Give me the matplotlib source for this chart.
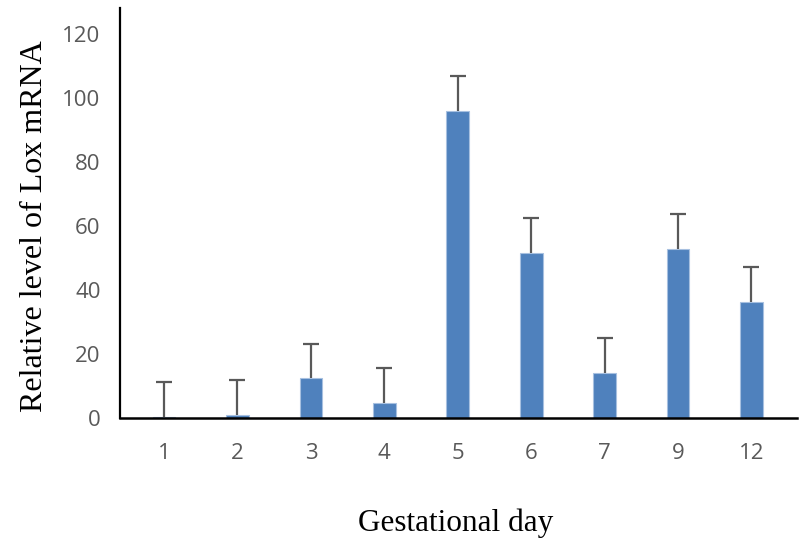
import matplotlib
matplotlib.use("Agg")
import matplotlib.pyplot as plt
import numpy as np

days = ["1", "2", "3", "4", "5", "6", "7", "9", "12"]
values = [0.2, 0.9, 12.4, 4.7, 96.0, 51.6, 14.2, 52.9, 36.3]
errors = [11.0, 11.0, 10.8, 10.9, 10.9, 10.7, 10.9, 10.9, 10.9]
yticks = [0, 20, 40, 60, 80, 100, 120]

fig = plt.figure(figsize=(7.99, 5.39), dpi=100)
W, H = 799, 539
ax = fig.add_axes([120 / W, (H - 418) / H, (797 - 120) / W, (418 - 8) / H])

x = np.arange(len(days))
vals = np.array(values)
errs = np.array(errors)
tops = vals + errs
ax.bar(x, vals, width=0.31, color="#4F81BD", edgecolor="#A7C0E0", linewidth=0.8, zorder=2)
ax.vlines(x, vals, tops, color="#595959", linewidth=1.6, zorder=3)
ax.plot(x, tops, linestyle="none", marker="_", markersize=12, markeredgewidth=1.6,
        color="#595959", zorder=3)

ax.set_xlim(-0.6, 8.62)
ax.set_ylim(0, 128)
ax.set_yticks(yticks)
ax.set_xticks(x)
ax.set_xticklabels(days)
ax.tick_params(axis="both", length=0, colors="#595959", labelsize=16)
ax.tick_params(axis="y", pad=14)
ax.tick_params(axis="x", pad=18)
for lab in ax.get_xticklabels() + ax.get_yticklabels():
    lab.set_fontfamily("Open Sans")

for s in ["top", "right"]:
    ax.spines[s].set_visible(False)
ax.spines["left"].set_linewidth(1.6)
ax.spines["bottom"].set_linewidth(1.8)
ax.spines["left"].set_color("black")
ax.spines["bottom"].set_color("black")

ax.set_xlabel("Gestational day", family="Liberation Serif", fontsize=22.5)
ax.set_ylabel("Relative level of Lox mRNA", family="Liberation Serif", fontsize=23)
ax.xaxis.set_label_coords((456 - 120) / 677, (418 - 508) / 410)
ax.yaxis.set_label_coords((49 - 120) / 677, (418 - 226) / 410)

fig.savefig("out.png", dpi=100)
